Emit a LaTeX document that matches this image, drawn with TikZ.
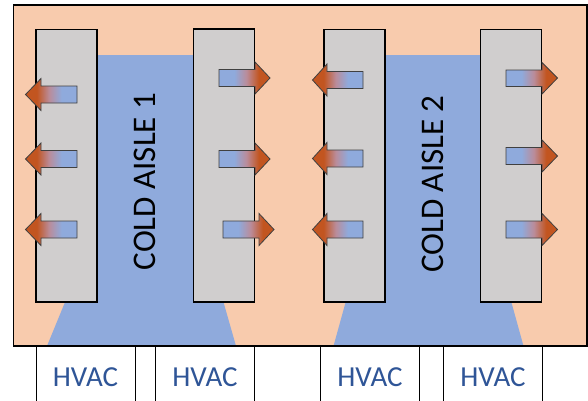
\documentclass[tikz,border=0pt]{standalone}
\usepackage{fontspec}
\newfontfamily\calibfont{Carlito}
\definecolor{roompeach}{HTML}{F8CBAD}
\definecolor{coldblue}{HTML}{8FAADC}
\definecolor{rackgray}{HTML}{D0CECE}
\definecolor{hotbrown}{HTML}{C25520}
\definecolor{hvacblue}{HTML}{2F5597}
\definecolor{warmmauve}{HTML}{BA8C9A}

% blue tail -> brown head
\pgfdeclarehorizontalshading{hotrightshade}{100bp}{
  color(0bp)=(coldblue); color(40bp)=(coldblue); color(52bp)=(warmmauve);
  color(64bp)=(hotbrown); color(100bp)=(hotbrown)}
\pgfdeclarehorizontalshading{hotleftshade}{100bp}{
  color(0bp)=(hotbrown); color(36bp)=(hotbrown); color(48bp)=(warmmauve);
  color(60bp)=(coldblue); color(100bp)=(coldblue)}

\tikzset{
  rack/.style={fill=rackgray, draw=black, line width=1.2pt},
  coldair/.style={fill=coldblue},
  hotleft/.style={shading=hotleftshade, draw=black!75, line width=0.8pt},
  hotright/.style={shading=hotrightshade, draw=black!75, line width=0.8pt},
  aislelabel/.style={rotate=90, inner sep=0pt, font=\calibfont\fontsize{33}{38}\selectfont},
  hvacbox/.style={draw=black, line width=1pt, fill=white, minimum width=99pt, minimum height=62pt,
                  inner sep=0pt, text=hvacblue, font=\calibfont\fontsize{29}{34}\selectfont},
}

\begin{document}
\begin{tikzpicture}[x=1pt, y=-1pt, line join=miter]

  %% ==== room ====
  \fill[roompeach] (13.5,5.0) rectangle (587.0,346.0);

  %% ==== cold aisles ====
  \fill[coldair] (97.0,54.5) rectangle (193.0,302.0);
  \fill[coldair] (70.0,290.0) -- (220.0,290.0) -- (236.0,346.0) -- (47.0,346.0) -- cycle;
  \fill[coldair] (385.0,54.5) rectangle (480.0,302.0);
  \fill[coldair] (349.0,290.0) -- (508.0,290.0) -- (523.5,346.0) -- (333.5,346.0) -- cycle;

  %% ==== racks ====
  \draw[rack] (36.0,29.5) rectangle (97.0,302.0);
  \draw[rack] (193.5,29.0) rectangle (254.5,302.0);
  \draw[rack] (324.0,29.5) rectangle (385.0,302.0);
  \draw[rack] (480.5,29.5) rectangle (541.5,302.0);

  %% ==== hot air out (left side) ====
  \shade[hotleft] (77.0,86.0) -- (41.0,86.0) -- (41.0,78.5) -- (25.5,94.5) -- (41.0,110.5) -- (41.0,103.0) -- (77.0,103.0) -- cycle;
  \shade[hotleft] (77.0,150.5) -- (41.0,150.5) -- (41.0,143.0) -- (25.5,159.0) -- (41.0,175.0) -- (41.0,167.5) -- (77.0,167.5) -- cycle;
  \shade[hotleft] (77.0,221.0) -- (41.0,221.0) -- (41.0,213.5) -- (25.5,229.5) -- (41.0,245.5) -- (41.0,238.0) -- (77.0,238.0) -- cycle;
  \shade[hotleft] (363.0,71.5) -- (327.0,71.5) -- (327.0,64.0) -- (312.5,80.0) -- (327.0,96.0) -- (327.0,88.5) -- (363.0,88.5) -- cycle;
  \shade[hotleft] (363.0,150.0) -- (327.0,150.0) -- (327.0,142.5) -- (312.5,158.5) -- (327.0,174.5) -- (327.0,167.0) -- (363.0,167.0) -- cycle;
  \shade[hotleft] (363.0,221.0) -- (327.0,221.0) -- (327.0,213.5) -- (312.5,229.5) -- (327.0,245.5) -- (327.0,238.0) -- (363.0,238.0) -- cycle;

  %% ==== hot air out (right side) ====
  \shade[hotright] (219.0,69.5) -- (255.0,69.5) -- (255.0,62.0) -- (270.0,78.0) -- (255.0,94.0) -- (255.0,86.5) -- (219.0,86.5) -- cycle;
  \shade[hotright] (219.0,150.5) -- (255.0,150.5) -- (255.0,143.0) -- (270.0,159.0) -- (255.0,175.0) -- (255.0,167.5) -- (219.0,167.5) -- cycle;
  \shade[hotright] (223.0,221.0) -- (259.0,221.0) -- (259.0,213.5) -- (274.0,229.5) -- (259.0,245.5) -- (259.0,238.0) -- (223.0,238.0) -- cycle;
  \shade[hotright] (506.0,70.0) -- (542.0,70.0) -- (542.0,62.5) -- (557.5,78.0) -- (542.0,94.0) -- (542.0,86.5) -- (506.0,86.5) -- cycle;
  \shade[hotright] (506.0,147.5) -- (542.0,147.5) -- (542.0,140.0) -- (557.5,156.0) -- (542.0,172.0) -- (542.0,164.5) -- (506.0,164.5) -- cycle;
  \shade[hotright] (506.0,221.0) -- (542.0,221.0) -- (542.0,213.5) -- (557.5,229.5) -- (542.0,245.5) -- (542.0,238.0) -- (506.0,238.0) -- cycle;

  %% ==== aisle labels ====
  \node[aislelabel] (aisle1) at (145.0,181.5) {COLD AISLE 1};
  \node[aislelabel] (aisle2) at (433.0,184.0) {COLD AISLE 2};

  %% ==== HVAC units ====
  \node[hvacbox] (hvac1) at (85.5,377.0) {HVAC};
  \node[hvacbox] (hvac2) at (205.0,377.0) {HVAC};
  \node[hvacbox] (hvac3) at (370.0,377.0) {HVAC};
  \node[hvacbox] (hvac4) at (493.0,377.0) {HVAC};

  %% room outline on top
  \draw[line width=1.6pt] (13.5,5.0) rectangle (587.0,346.0);

  \pgfresetboundingbox
  \path[use as bounding box] (0,0) rectangle (588,400);
\end{tikzpicture}
\end{document}
